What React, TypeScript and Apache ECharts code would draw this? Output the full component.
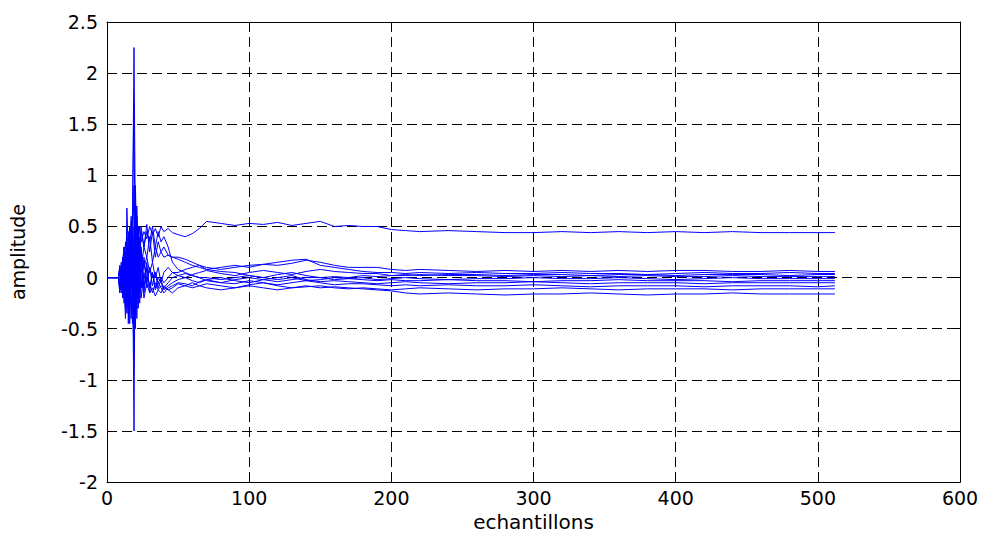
import React, { useEffect, useRef } from "react";
import * as echarts from "echarts";

// sample indices (x values)
const samples = [0, 8, 9, 10, 11, 12, 13, 14, 15, 16, 17, 18, 19, 20, 21, 22, 23, 24, 26, 28, 30, 32, 34, 36, 38, 40, 43, 46, 50, 55, 60, 65, 70, 80, 90, 100, 110, 120, 130, 140, 150, 160, 170, 180, 190, 200, 210, 220, 240, 260, 280, 300, 320, 340, 360, 380, 400, 420, 440, 460, 480, 500, 512];

// coefficient trajectories (amplitude)
const w1 = [0, 0, 0.1, -0.1, 0.15, 0.3, 0.1, -0.2, 0.35, 0.5, 0.2, 0.6, 2.25, 0.4, 0.7, 0.3, 0.5, 0.35, 0.45, 0.38, 0.5, 0.42, 0.48, 0.4, 0.5, 0.45, 0.48, 0.44, 0.42, 0.4, 0.43, 0.48, 0.55, 0.53, 0.51, 0.53, 0.52, 0.54, 0.51, 0.53, 0.55, 0.5, 0.51, 0.5, 0.5, 0.47, 0.46, 0.45, 0.46, 0.45, 0.44, 0.44, 0.45, 0.44, 0.45, 0.44, 0.45, 0.44, 0.45, 0.44, 0.44, 0.44, 0.44];
const w2 = [0, 0, -0.1, 0.15, -0.05, 0.2, -0.3, 0.4, 0.1, -0.2, 0.55, 0.2, -1.5, 0.9, 0.2, 0.5, 0.1, 0.45, 0.3, 0.52, 0.25, 0.45, 0.2, 0.35, 0.25, 0.3, 0.22, 0.2, 0.18, 0.15, 0.12, 0.1, 0.08, 0.1, 0.12, 0.1, 0.13, 0.12, 0.14, 0.17, 0.15, 0.12, 0.1, 0.1, 0.1, 0.08, 0.07, 0.08, 0.07, 0.06, 0.07, 0.06, 0.07, 0.06, 0.07, 0.06, 0.07, 0.07, 0.06, 0.06, 0.07, 0.06, 0.06];
const w3 = [0, 0, 0.05, -0.15, 0.2, -0.1, 0.35, 0.1, -0.35, 0.4, -0.1, 0.7, 1.7, -0.3, 0.5, 0.0, 0.4, 0.1, 0.3, 0.2, 0.4, 0.15, 0.3, 0.2, 0.25, 0.2, 0.22, 0.2, 0.2, 0.18, 0.15, 0.12, 0.1, 0.08, 0.1, 0.12, 0.13, 0.15, 0.17, 0.18, 0.12, 0.1, 0.08, 0.06, 0.05, 0.05, 0.04, 0.05, 0.04, 0.05, 0.04, 0.04, 0.05, 0.04, 0.04, 0.03, 0.04, 0.05, 0.04, 0.04, 0.05, 0.04, 0.04];
const w4 = [0, 0, -0.05, 0.1, -0.15, 0.15, -0.2, 0.68, 0.2, -0.45, 0.3, -0.2, -0.8, 0.6, -0.1, 0.35, 0.0, 0.25, 0.1, 0.2, 0.05, 0.15, 0.0, 0.1, -0.05, 0.05, 0.1, 0.05, 0.02, 0.0, 0.03, 0.05, 0.07, 0.04, 0.02, 0.05, 0.07, 0.05, 0.03, 0.06, 0.08, 0.06, 0.05, 0.04, 0.04, 0.02, 0.02, 0.03, 0.02, 0.02, 0.01, 0.02, 0.01, 0.02, 0.01, 0.02, 0.01, 0.01, 0.02, 0.01, 0.01, 0.01, 0.01];
const w5 = [0, 0, 0.12, -0.1, 0.05, -0.25, 0.2, -0.35, 0.45, 0.1, -0.4, 0.3, 0.9, -0.5, 0.3, -0.2, 0.2, -0.1, 0.15, -0.05, 0.1, 0.0, 0.05, -0.05, 0.0, -0.05, 0.0, 0.05, 0.05, 0.08, 0.1, 0.12, 0.08, 0.06, 0.05, 0.02, 0.0, 0.03, 0.05, 0.02, 0.0, -0.02, -0.01, 0.0, -0.02, -0.01, 0.0, -0.01, -0.02, -0.01, -0.01, 0.0, -0.01, -0.01, 0.0, -0.01, -0.02, -0.01, 0.0, -0.01, -0.01, -0.01, -0.01];
const w6 = [0, 0, -0.12, 0.05, -0.2, 0.1, -0.3, 0.25, -0.45, 0.2, -0.1, 0.45, -0.6, 0.8, -0.3, 0.2, -0.25, 0.25, -0.15, 0.1, -0.1, 0.05, -0.1, 0.0, -0.05, -0.1, -0.05, 0.0, 0.02, 0.04, 0.02, 0.0, 0.0, -0.02, 0.0, 0.02, 0.0, -0.02, 0.0, -0.03, -0.02, 0.0, -0.01, -0.02, -0.03, -0.02, -0.03, -0.03, -0.02, -0.03, -0.03, -0.04, -0.03, -0.03, -0.02, -0.03, -0.03, -0.03, -0.04, -0.03, -0.03, -0.03, -0.03];
const w7 = [0, 0, 0.08, -0.08, 0.1, 0.3, -0.15, 0.1, -0.25, 0.5, 0.3, -0.3, 0.4, -0.2, 0.6, -0.15, 0.35, -0.1, 0.2, -0.05, 0.1, -0.08, 0.05, -0.1, -0.02, -0.12, -0.08, -0.05, -0.02, 0.0, -0.03, -0.05, -0.02, 0.0, -0.03, -0.05, -0.02, 0.0, 0.02, -0.02, -0.04, -0.03, -0.04, -0.05, -0.06, -0.05, -0.04, -0.05, -0.06, -0.05, -0.05, -0.04, -0.05, -0.06, -0.05, -0.05, -0.05, -0.06, -0.05, -0.05, -0.05, -0.05, -0.05];
const w8 = [0, 0, -0.08, 0.12, -0.1, -0.2, 0.15, -0.1, 0.3, -0.3, 0.6, 0.1, -0.2, 0.4, -0.4, 0.5, -0.2, 0.3, -0.1, 0.15, -0.15, 0.05, -0.12, -0.05, -0.1, -0.15, -0.1, -0.08, -0.05, -0.06, -0.08, -0.04, -0.02, -0.05, -0.06, -0.03, -0.05, -0.07, -0.05, -0.03, -0.05, -0.07, -0.06, -0.06, -0.07, -0.08, -0.07, -0.08, -0.07, -0.08, -0.08, -0.07, -0.08, -0.09, -0.08, -0.08, -0.08, -0.09, -0.08, -0.08, -0.08, -0.09, -0.08];
const w9 = [0, 0, 0.05, 0.0, 0.2, -0.05, -0.4, 0.3, -0.1, 0.25, -0.25, -0.45, 0.5, -0.35, 0.2, -0.3, 0.1, -0.2, 0.05, -0.1, -0.05, -0.15, -0.05, -0.12, -0.08, -0.1, -0.12, -0.1, -0.06, -0.08, -0.1, -0.08, -0.06, -0.08, -0.1, -0.07, -0.05, -0.08, -0.1, -0.09, -0.08, -0.1, -0.11, -0.1, -0.11, -0.12, -0.11, -0.1, -0.11, -0.12, -0.11, -0.11, -0.1, -0.11, -0.12, -0.11, -0.11, -0.11, -0.12, -0.11, -0.11, -0.11, -0.11];
const w10 = [0, 0, -0.15, 0.08, 0.0, 0.18, -0.1, -0.3, 0.15, -0.2, 0.0, 0.35, -0.35, 0.3, -0.2, 0.0, -0.15, 0.1, -0.2, -0.05, -0.15, -0.1, -0.18, -0.12, -0.15, -0.08, -0.12, -0.15, -0.1, -0.08, -0.05, -0.08, -0.1, -0.12, -0.1, -0.08, -0.1, -0.12, -0.1, -0.08, -0.1, -0.09, -0.1, -0.11, -0.12, -0.13, -0.15, -0.16, -0.15, -0.16, -0.17, -0.16, -0.16, -0.15, -0.16, -0.17, -0.16, -0.16, -0.15, -0.16, -0.16, -0.16, -0.16];
const w11 = [0, 0, 0.0, -0.12, 0.12, 0.0, 0.25, -0.15, 0.2, 0.0, 0.4, -0.1, 0.3, 0.2, -0.2, 0.45, 0.15, 0.5, 0.3, 0.45, 0.35, 0.5, 0.3, 0.45, 0.35, 0.4, 0.3, 0.15, 0.08, 0.05, 0.02, 0.0, -0.03, -0.05, -0.02, 0.0, -0.02, -0.04, -0.02, 0.0, 0.0, 0.01, 0.0, 0.02, 0.01, 0.02, 0.03, 0.02, 0.03, 0.03, 0.02, 0.03, 0.03, 0.02, 0.03, 0.03, 0.02, 0.03, 0.03, 0.03, 0.02, 0.03, 0.03];

const coefficients = [w1, w2, w3, w4, w5, w6, w7, w8, w9, w10, w11];

const xName = "echantillons";
const yName = "amplitude";

const FONT = "'DejaVu Sans', 'Liberation Sans', Arial, sans-serif";

export default function App() {
  const ref = useRef<HTMLDivElement>(null);

  useEffect(() => {
    if (!ref.current) return;
    const chart = echarts.init(ref.current, null, { renderer: "svg" });
    const axisLine = { show: true, onZero: false, lineStyle: { color: "#000", width: 1 } };
    const tick = { show: true, inside: true, length: 6, lineStyle: { color: "#000", width: 1 } };
    const grid = { show: true, lineStyle: { color: "#000", width: 1, type: [10, 5] as any } };
    const label = { color: "#000", fontSize: 19, fontFamily: FONT };

    chart.setOption({
      animation: false,
      backgroundColor: "#fff",
      grid: { left: 104, right: 27, top: 22, bottom: 51, show: false },
      xAxis: [
        {
          type: "value",
          min: 0,
          max: 600,
          interval: 100,
          position: "bottom",
          axisLine,
          axisTick: tick,
          axisLabel: { ...label, margin: 6 },
          splitLine: grid,
          name: xName,
          nameLocation: "middle",
          nameGap: 26,
          nameTextStyle: { color: "#000", fontSize: 20, fontFamily: FONT },
        },
        {
          type: "value",
          min: 0,
          max: 600,
          interval: 100,
          position: "top",
          axisLine,
          axisTick: tick,
          axisLabel: { show: false },
          splitLine: { show: false },
        },
      ],
      yAxis: [
        {
          type: "value",
          min: -2,
          max: 2.5,
          interval: 0.5,
          position: "left",
          axisLine,
          axisTick: tick,
          axisLabel: { ...label, margin: 9 },
          splitLine: grid,
          name: yName,
          nameLocation: "middle",
          nameGap: 80,
          nameTextStyle: { color: "#000", fontSize: 19, fontFamily: FONT },
        },
        {
          type: "value",
          min: -2,
          max: 2.5,
          interval: 0.5,
          position: "right",
          axisLine,
          axisTick: tick,
          axisLabel: { show: false },
          splitLine: { show: false },
        },
      ],
      series: coefficients.map((w, k) => ({
        name: "w" + (k + 1),
        type: "line",
        xAxisIndex: 0,
        yAxisIndex: 0,
        showSymbol: false,
        symbol: "none",
        lineStyle: { color: "#0000ff", width: 1 },
        itemStyle: { color: "#0000ff" },
        data: samples.map((x, i) => [x, w[i]]),
      })),
    });

    return () => chart.dispose();
  }, []);

  return (
    <div
      ref={ref}
      style={{ position: "fixed", left: 0, top: 0, width: 987, height: 537 }}
    />
  );
}
